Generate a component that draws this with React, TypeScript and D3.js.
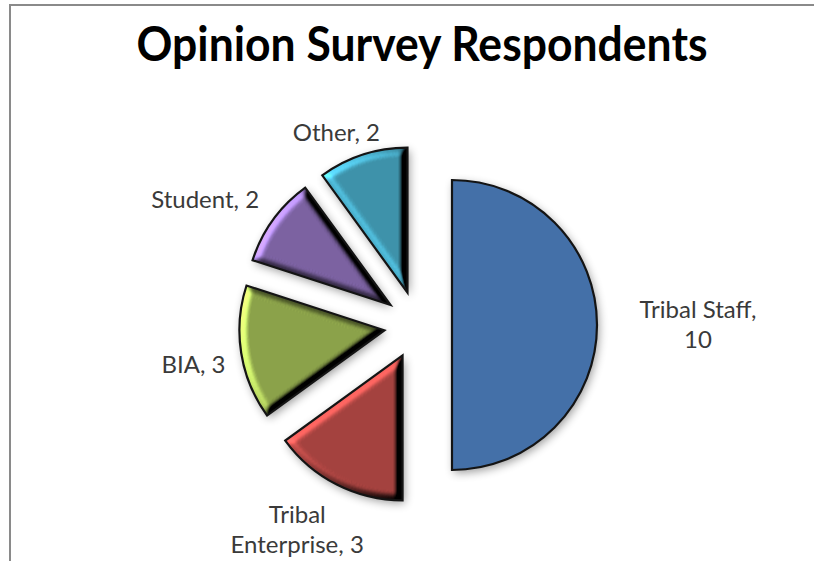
import React from 'react';
import * as d3 from 'd3';

// ---- data ----
const categories = ['Tribal Staff', 'Tribal Enterprise', 'BIA', 'Student', 'Other'];
const values = [10, 3, 3, 2, 2];
const labelLines = [['Tribal Staff,', '10'], ['Tribal', 'Enterprise, 3'], ['BIA, 3'], ['Student, 2'], ['Other, 2']];
const title = 'Opinion Survey Respondents';

// ---- style / layout ----
const colors = ['#4470A8', '#A5423F', '#8CA34A', '#7C62A2', '#3E93AB'];
const beveled = [false, true, true, true, true];
const labelRadius = [280, 238, 228, 247, 209];
const labelAngleShift = [0, 3.5, -1, -5.5, -5]; // degrees
const W = 814;
const H = 561;
const cx = 418;
const cy = 325;
const R = 145;
const explode = 34;

export default function App() {
  const data = categories.map((c, i) => ({ c, v: values[i], i }));
  const pie = d3.pie<any>().sort(null).value((d: any) => d.v).startAngle(0).endAngle(2 * Math.PI);
  const arcs = pie(data);
  const arcGen = d3.arc<any>().innerRadius(0).outerRadius(R);
  const fontLabel = 'Lato, "Open Sans", sans-serif';

  return (
    <svg width={W} height={H} style={{ position: 'absolute', left: 0, top: 0, background: '#fff' }}>
      <defs>
        <filter id="blur" x="-30%" y="-30%" width="160%" height="160%">
          <feGaussianBlur stdDeviation="5" />
        </filter>
        <filter id="bevel" x="-10%" y="-10%" width="120%" height="120%" colorInterpolationFilters="sRGB">
          <feGaussianBlur in="SourceAlpha" stdDeviation="3.6" result="blur" />
          <feDiffuseLighting in="blur" surfaceScale="9" diffuseConstant="0.87" lightingColor="#ffffff" result="diff">
            <feDistantLight azimuth="200" elevation="35" />
          </feDiffuseLighting>
          <feComposite in="SourceGraphic" in2="diff" operator="arithmetic" k1="2" k2="0" k3="0" k4="0" result="lit" />
          <feComposite in="lit" in2="SourceAlpha" operator="in" />
        </filter>
      </defs>
      <rect x={10} y={5} width={W + 20} height={H + 20} fill="none" stroke="#8a8a8a" strokeWidth={2} />
      <text
        x={422}
        y={61}
        textAnchor="middle"
        fontFamily={fontLabel}
        fontWeight="bold"
        fontSize={47}
        textLength={571}
        lengthAdjust="spacingAndGlyphs"
        fill="#000"
      >
        {title}
      </text>
      {arcs.map((a: any) => {
        const mid = (a.startAngle + a.endAngle) / 2;
        const dx = Math.sin(mid) * explode;
        const dy = -Math.cos(mid) * explode;
        const d = arcGen(a) as string;
        return (
          <g key={a.data.c} transform={`translate(${cx + dx},${cy + dy})`}>
            <path d={d} fill="#000" opacity={0.4} transform="translate(2,3)" filter="url(#blur)" />
          </g>
        );
      })}
      {arcs.map((a: any) => {
        const mid = (a.startAngle + a.endAngle) / 2;
        const dx = Math.sin(mid) * explode;
        const dy = -Math.cos(mid) * explode;
        const d = arcGen(a) as string;
        const i = a.data.i;
        return (
          <g key={a.data.c} transform={`translate(${cx + dx},${cy + dy})`}>
            <path d={d} fill={colors[i]} filter={beveled[i] ? 'url(#bevel)' : undefined} />
            <path d={d} fill="none" stroke="#141414" strokeWidth={2.2} strokeLinejoin="miter" />
          </g>
        );
      })}
      {arcs.map((a: any) => {
        const i = a.data.i;
        const mid = (a.startAngle + a.endAngle) / 2 + (labelAngleShift[i] * Math.PI) / 180;
        const lx = cx + Math.sin(mid) * labelRadius[i];
        const ly = cy - Math.cos(mid) * labelRadius[i];
        const lines = labelLines[i];
        const lh = 30;
        const fs = 24;
        const y0 = ly - ((lines.length - 1) * lh) / 2 + fs * 0.35;
        return (
          <text key={a.data.c} x={lx} textAnchor="middle" fontFamily={fontLabel} fontSize={fs} fill="#3a3a3a">
            {lines.map((ln, k) => (
              <tspan key={k} x={lx} y={y0 + k * lh}>
                {ln}
              </tspan>
            ))}
          </text>
        );
      })}
    </svg>
  );
}
